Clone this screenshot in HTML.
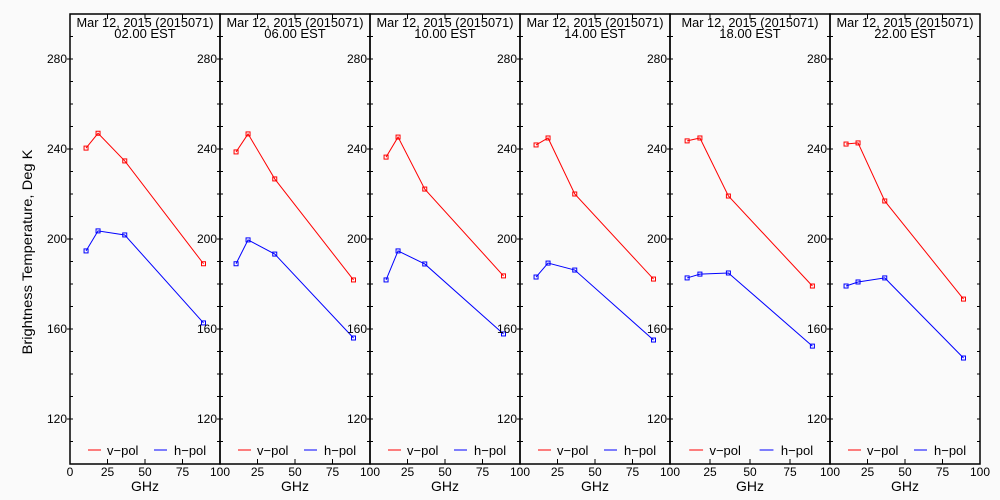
<!DOCTYPE html>
<html><head><meta charset="utf-8"><style>
html,body{margin:0;padding:0;background:#fafafa;}
svg{display:block;font-family:"Liberation Sans",sans-serif;}
</style></head><body>
<svg id="chart" width="1000" height="500">
<text x="32" y="252" font-size="14" text-anchor="middle" textLength="205" lengthAdjust="spacingAndGlyphs" transform="rotate(-90 32 252)">Brightness Temperature, Deg K</text>
</svg>
<script>
const freqs = [10.7, 18.7, 36.5, 89];
const times = ["02.00 EST","06.00 EST","10.00 EST","14.00 EST","18.00 EST","22.00 EST"];
const vpol = [
 [240.4,247,234.7,189],
 [238.7,246.7,226.7,181.8],
 [236.4,245.3,222.2,183.6],
 [241.8,244.9,220,182.2],
 [243.6,244.9,219.1,179.1],
 [242.2,242.7,216.9,173.3]];
const hpol = [
 [194.7,203.6,201.8,162.7],
 [189,199.6,193.3,156],
 [181.8,194.7,188.9,157.8],
 [183.1,189.3,186.2,155.1],
 [182.7,184.4,184.9,152.4],
 [179.1,180.9,182.7,147.1]];
const yTicks = [120,160,200,240,280];
const xTicks = [0,25,50,75,100];
const panelEdges = [70,220,370,520,670,830,980];
const NS="http://www.w3.org/2000/svg";
const svg=document.getElementById('chart');
const plotTop=14,plotBot=464,yMin=100,yMax=300;
function Y(v){return plotBot-(v-yMin)/(yMax-yMin)*(plotBot-plotTop);}
function mk(tag,attrs,parent){const e=document.createElementNS(NS,tag);for(const k in attrs)e.setAttribute(k,attrs[k]);(parent||svg).appendChild(e);return e;}
for(let p=0;p<6;p++){
 const x0=panelEdges[p],x1=panelEdges[p+1],w=x1-x0;
 const X=f=>x0+f/100*w;
 const g=mk('g',{});
 
 
 const fr=mk('rect',{x:x0,y:plotTop,width:w,height:plotBot-plotTop,fill:'none',stroke:'#000','stroke-width':1.5},g);
 
 
 for(let v=110;v<300;v+=10){
  const y=Y(v);const major=yTicks.includes(v);
  mk('line',{x1:x0-(major?3:0),x2:x0+3,y1:y,y2:y,stroke:'#000'},g);
  mk('line',{x1:x1-3,x2:x1,y1:y,y2:y,stroke:'#000'},g);
 }
 yTicks.forEach(v=>{
  const t=mk('text',{x:x0-3,y:Y(v)+4,'font-size':12,'text-anchor':'end'},g);
  t.textContent=v;
  
  
 });
 xTicks.forEach((f,i)=>{
  const x=X(f);
  if(i>0&&i<4){mk('line',{x1:x,x2:x,y1:plotBot,y2:plotBot-5,stroke:'#000'},g);mk('line',{x1:x,x2:x,y1:plotTop,y2:plotTop+5,stroke:'#000'},g);}
  if(i===0&&p>0)return;
  const t=mk('text',{x:x,y:plotBot+12,'font-size':12,'text-anchor':'middle'},g);
  t.textContent=f;
  
  
 });
 const xl=mk('text',{x:x0+w/2,y:491,'font-size':14,'text-anchor':'middle'},g);
 xl.textContent='GHz';
 
 
 const t1=mk('text',{x:x0+w/2,y:27,'font-size':13,'text-anchor':'middle',textLength:137,lengthAdjust:'spacingAndGlyphs'},g);
 t1.textContent='Mar 12, 2015 (2015071)';
 
 
 const t2=mk('text',{x:x0+w/2,y:38,'font-size':13,'text-anchor':'middle'},g);
 t2.textContent=times[p];
 
 
 [[vpol[p],'#f00','v-pol'],[hpol[p],'#00f','h-pol']].forEach(([vals,col,nm])=>{
  const pl=mk('polyline',{points:vals.map((v,i)=>X(freqs[i])+','+Y(v)).join(' '),fill:'none',stroke:col,'stroke-width':1},g);
  
  
  vals.forEach((v,i)=>{
   const r=mk('rect',{x:X(freqs[i])-2,y:Y(v)-2,width:4,height:4,fill:'none',stroke:col,'stroke-width':1},g);
   
   
  });
 });
 const s=w/150;
 const lg=mk('g',{},g);
 
 
 mk('line',{x1:x0+18*s,x2:x0+31*s,y1:450,y2:450,stroke:'#f00'},lg);
 const l1=mk('text',{x:x0+37*s,y:455,'font-size':13},lg);l1.textContent='v\u2212pol';
 
 
 mk('line',{x1:x0+84*s,x2:x0+97*s,y1:450,y2:450,stroke:'#00f'},lg);
 const l2=mk('text',{x:x0+104*s,y:455,'font-size':13},lg);l2.textContent='h\u2212pol';
 
 
}
</script>
</body></html>
